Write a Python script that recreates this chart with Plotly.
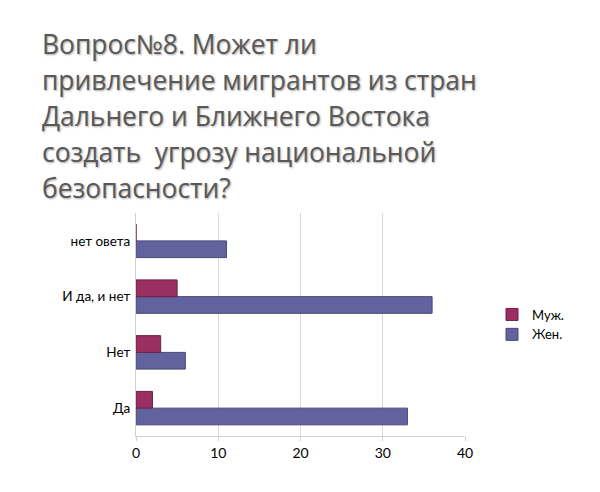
import plotly.graph_objects as go

categories = ["Да", "Нет", "И да, и нет", "нет овета"]
zhen = [33, 6, 36, 11]
muzh = [2, 3, 5, 0]
x_ticks = [0, 10, 20, 30, 40]
title_lines = ["Вопрос№8. Может ли",
               "привлечение мигрантов из стран",
               "Дальнего и Ближнего Востока",
               "создать  угрозу национальной",
               "безопасности?"]

fig = go.Figure()
fig.add_trace(go.Bar(
    y=categories, x=zhen, name="Жен.", orientation="h",
    marker=dict(color="#62629F", line=dict(color="#47477A", width=1)),
))
fig.add_trace(go.Bar(
    y=categories, x=muzh, name="Муж.", orientation="h",
    marker=dict(color="#9A2F62", line=dict(color="#6E1F45", width=1)),
))

for i, line in enumerate(title_lines):
    fig.add_annotation(
        text=line, xref="paper", yref="paper",
        x=-(139 - 43) / 329, xanchor="left",
        y=1 + (205 - 16 - 36 * i) / 223, yanchor="top",
        showarrow=False, align="left",
        font=dict(family="Open Sans", size=26.4, color="#595959",
                  shadow="1px 1px 2px rgba(0,0,0,0.35)"),
    )

fig.update_layout(
    width=600, height=492,
    paper_bgcolor="white", plot_bgcolor="white",
    margin=dict(l=128, r=143, t=205, b=64, autoexpand=False),
    barmode="group", bargap=0.40, bargroupgap=0.0,
    legend=dict(
        x=484 / 600, xref="container", xanchor="left",
        y=0.5, yanchor="middle",
        traceorder="reversed",
        font=dict(family="Lato", size=13, color="#000000"),
        bgcolor="rgba(0,0,0,0)", itemwidth=30,
    ),
    xaxis=dict(
        range=[0, 40], tickvals=x_ticks, showgrid=True, gridcolor="#D9D9D9",
        gridwidth=1, zeroline=False, showline=True, linecolor="#D0D0D0",
        tickfont=dict(family="Lato", size=14, color="#000000"),
        ticks="outside", ticklen=4, tickcolor="#D0D0D0",
    ),
    yaxis=dict(
        categoryorder="array", categoryarray=categories,
        showline=True, linecolor="#D0D0D0", showgrid=False,
        tickfont=dict(family="Lato", size=13.5, color="#000000"),
        ticks="", ticklabelstandoff=2,
    ),
)

fig.write_html("out.html")
